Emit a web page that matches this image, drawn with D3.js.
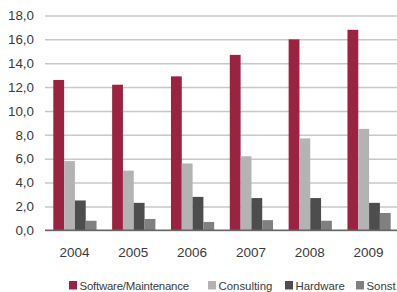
<!DOCTYPE html>
<html lang="de">
<head>
<meta charset="UTF-8">
<title>Umsatz nach Segment</title>
<script src="https://cdn.jsdelivr.net/npm/d3@7"></script>
<style>
  body { margin: 0; background: #fff; }
  svg { display: block; font-family: "Liberation Sans", Arial, sans-serif; }
</style>
</head>
<body>
<svg class="root"></svg>
<script>
    const years = ["2004", "2005", "2006", "2007", "2008", "2009"];
    const series = ["Software/Maintenance", "Consulting", "Hardware", "Sonst"];
    const software = [12.6, 12.2, 12.9, 14.7, 16.0, 16.8];
    const consulting = [5.8, 5.0, 5.6, 6.2, 7.7, 8.5];
    const hardware = [2.5, 2.3, 2.8, 2.7, 2.7, 2.3];
    const sonst = [0.8, 0.95, 0.7, 0.85, 0.8, 1.45];
    const yTicks = [0, 2, 4, 6, 8, 10, 12, 14, 16, 18];

    const values = [software, consulting, hardware, sonst];
    const colors = ["#9b2241", "#b3b3b3", "#4d4d4d", "#808080"];

    const width = 397, height = 292;
    const margin = {top: 15, right: 0, bottom: 62, left: 45};

    const svg = d3.select(".root")
        .attr("width", width)
        .attr("height", height);

    const x = d3.scaleBand()
        .domain(years)
        .range([margin.left, 398]);

    const xi = d3.scaleBand()
        .domain(series)
        .range([8.3, x.bandwidth() - 7.3]);

    const y = d3.scaleLinear()
        .domain([0, 18])
        .range([230.3, 15.5]);

    const fmt = d => d3.format(".1f")(d).replace(".", ",");

    // grid + y labels
    svg.append("g")
        .attr("transform", `translate(${margin.left},0)`)
        .call(d3.axisLeft(y).tickValues(yTicks).tickSize(-(width - margin.left)).tickFormat(fmt))
        .call(g => g.select(".domain").remove())
        .call(g => g.selectAll(".tick line").attr("stroke", "#c8c8c8").attr("stroke-width", 1.5))
        .call(g => g.selectAll(".tick text")
            .attr("x", -11)
            .attr("fill", "#3a3a3a")
            .style("font-size", "13.4px"));

    // bars
    const group = svg.append("g")
        .selectAll("g")
        .data(years)
        .join("g")
        .attr("transform", d => `translate(${x(d)},0)`);

    group.selectAll("rect")
        .data((d, i) => series.map((s, j) => ({s, v: values[j][i], c: colors[j]})))
        .join("rect")
        .attr("x", d => xi(d.s))
        .attr("width", xi.bandwidth())
        .attr("y", d => y(d.v))
        .attr("height", d => y(0) - y(d.v))
        .attr("fill", d => d.c);

    // baseline
    svg.append("line")
        .attr("x1", margin.left)
        .attr("x2", width)
        .attr("y1", y(0))
        .attr("y2", y(0))
        .attr("stroke", "#666")
        .attr("stroke-width", 1.5);

    // x labels
    svg.append("g")
        .attr("transform", `translate(0,${y(0)})`)
        .call(d3.axisBottom(x).tickSize(0).tickPadding(17))
        .call(g => g.select(".domain").remove())
        .call(g => g.selectAll(".tick text")
            .attr("fill", "#3a3a3a")
            .style("font-size", "13.5px"));

    // legend
    const legendX = [69, 208, 285, 356];
    const legend = svg.append("g")
        .selectAll("g")
        .data(series)
        .join("g")
        .attr("transform", (d, i) => `translate(${legendX[i]},281)`);

    legend.append("rect")
        .attr("width", 8)
        .attr("height", 8.5)
        .attr("fill", (d, i) => colors[i]);

    legend.append("text")
        .attr("x", 10.5)
        .attr("y", 4.5)
        .attr("dy", "0.35em")
        .attr("fill", "#3a3a3a")
        .style("font-size", "11.4px")
        .style("letter-spacing", (d, i) => i === 0 ? "-0.2px" : null)
        .text(d => d);
</script>
</body>
</html>
